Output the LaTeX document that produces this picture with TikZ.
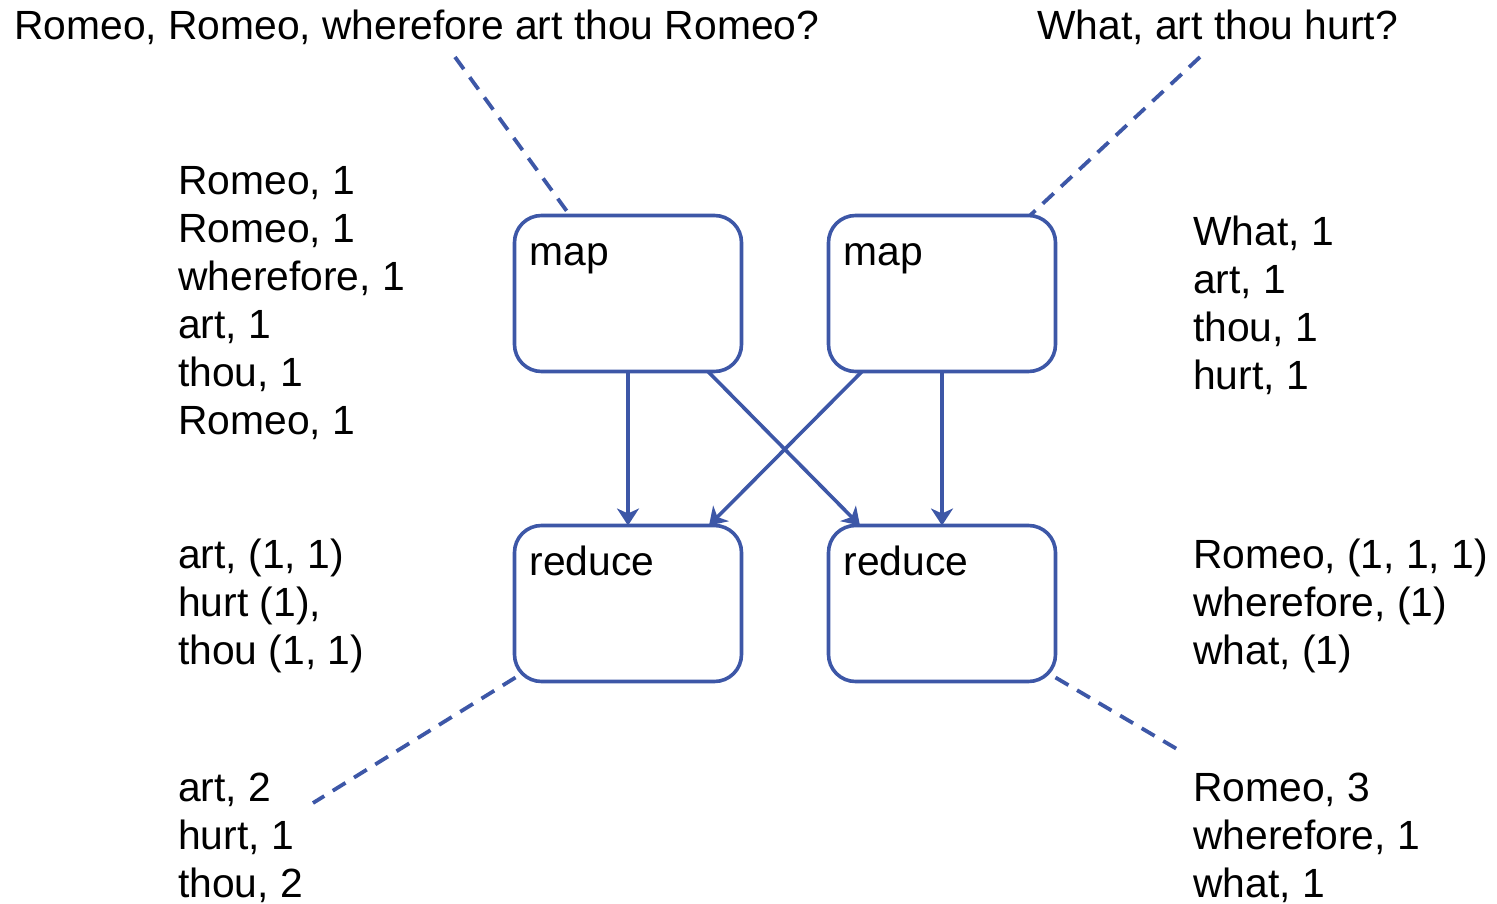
\documentclass[tikz,border=0pt]{standalone}
\usepackage{fontspec}
\setmainfont{Liberation Sans}
\usetikzlibrary{arrows.meta}
\definecolor{flowblue}{HTML}{3D57A7}
\begin{document}
\begin{tikzpicture}[x=1pt,y=-1pt,
  every node/.style={font=\fontsize{40.8pt}{48pt}\selectfont},
  box/.style={draw=flowblue, line width=3.6pt, rounded corners=27pt,
    minimum width=227pt, minimum height=156pt, inner sep=0pt, outer sep=0pt},
  boxlabel/.style={anchor=base west, inner sep=0pt},
  words/.style={anchor=north west, align=left, inner sep=0pt},
  title/.style={anchor=base west, inner sep=0pt},
  flow/.style={draw=flowblue, line width=3.6pt,
    -{Stealth[length=17pt,width=22pt,inset=5pt]}},
  link/.style={draw=flowblue, line width=3.8pt, dash pattern=on 15pt off 10pt}
]
\useasboundingbox (0,0) rectangle (1497,904);

% input sentences
\node[title] (in1) at (14,40) {Romeo, Romeo, wherefore art thou Romeo?};
\node[title] (in2) at (1037,40) {What, art thou hurt?};

% map and reduce boxes
\node[box] (m1) at (628,293.5) {};
\node[box] (m2) at (942,293.5) {};
\node[box] (r1) at (628,603.5) {};
\node[box] (r2) at (942,603.5) {};
\node[boxlabel] (m1t) at ([shift={(15,50)}]m1.north west) {map};
\node[boxlabel] (m2t) at ([shift={(15,50)}]m2.north west) {map};
\node[boxlabel] (r1t) at ([shift={(15,50)}]r1.north west) {reduce};
\node[boxlabel] (r2t) at ([shift={(15,50)}]r2.north west) {reduce};

% intermediate and final key/value lists
\node[words] (kv1) at (178,166) {Romeo, 1\\Romeo, 1\\wherefore, 1\\art, 1\\thou, 1\\Romeo, 1};
\node[words] (kv2) at (1193,216) {What, 1\\art, 1\\thou, 1\\hurt, 1};
\node[words] (grp1) at (178,539) {art, (1, 1)\\hurt (1),\\thou (1, 1)};
\node[words] (grp2) at (1193,539) {Romeo, (1, 1, 1)\\wherefore, (1)\\what, (1)};
\node[words] (out1) at (178,773) {art, 2\\hurt, 1\\thou, 2};
\node[words] (out2) at (1193,773) {Romeo, 3\\wherefore, 1\\what, 1};

% free ends of the dashed leaders
\coordinate (tl) at (455,57);
\coordinate (tr) at (1200,57);
\coordinate (bl) at (313,803);
\coordinate (br) at (1182,752);

% shuffle arrows
\draw[flow] (m1.south) -- (r1.north);
\draw[flow] (m2.south) -- (r2.north);
\draw[flow] ([shift={(80,0)}]m1.south) -- ([shift={(-82,0)}]r2.north);
\draw[flow] ([shift={(-80,0)}]m2.south) -- ([shift={(81,0)}]r1.north);

% dashed leaders
\draw[link] (tl) -- ([shift={(-58,0)}]m1.north);
\draw[link] (tr) -- ([shift={(88,0)}]m2.north);
\draw[link] ([shift={(1,-4)}]r1.south west) -- (bl);
\draw[link] ([shift={(0,-4)}]r2.south east) -- (br);
\end{tikzpicture}
\end{document}
